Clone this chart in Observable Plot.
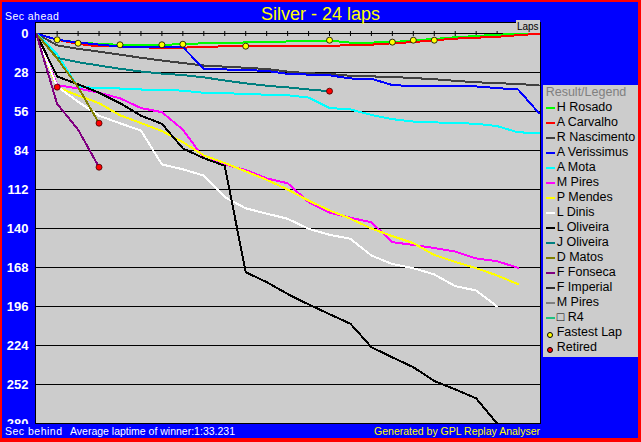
<!DOCTYPE html>
<html>
<head>
<meta charset="utf-8">
<script src="https://cdn.jsdelivr.net/npm/d3@7"></script>
<script src="https://cdn.jsdelivr.net/npm/@observablehq/plot@0.6"></script>
<style>
html,body{margin:0;padding:0;background:#ff0000;}
#wrap{position:relative;width:641px;height:442px;background:#ff0000;overflow:hidden;font-family:"Liberation Sans",Arial,sans-serif;}
#blue{position:absolute;left:2px;top:2px;width:636px;height:436px;background:#0000ff;}
#chart{position:absolute;left:0;top:0;}
.t{position:absolute;white-space:nowrap;}
#title{left:0;width:641px;top:5px;text-align:center;color:#ffff00;font-size:18px;line-height:18px;}
#secahead{left:5px;top:10.5px;color:#fff;font-size:10.5px;line-height:10.5px;letter-spacing:0.45px;}
#laps{left:516px;top:20px;width:23.5px;height:12.5px;background:#cccccc;color:#000;font-size:10px;line-height:13px;text-align:center;}
#secbehind{left:5px;top:425.5px;color:#fff;font-size:10.5px;line-height:10.5px;letter-spacing:0.5px;}
#avg{left:70px;top:425.5px;color:#fff;font-size:10.5px;line-height:10.5px;}
#gen{right:101px;top:425.5px;color:#ffff00;font-size:10.5px;line-height:10.5px;}
#legend{position:absolute;left:543px;top:85px;width:95px;height:272px;background:#cccccc;font-size:12.5px;}
#legend .head{position:relative;height:15px;line-height:15px;color:#808080;padding-left:2.7px;}
#legend .row{position:relative;height:15px;line-height:15px;color:#000;}
#legend .sw{position:absolute;left:2.7px;top:7.1px;width:9.5px;height:2px;}
#legend .dot{position:absolute;left:3.7px;top:6.5px;width:4px;height:4px;border:0.8px solid #000;border-radius:50%;}
#legend .lab{position:absolute;left:13.7px;top:0;}
</style>
</head>
<body>
<div id="wrap">
  <div id="blue"></div>
  <div id="chart"></div>
  <div class="t" id="title">Silver - 24 laps</div>
  <div class="t" id="secahead">Sec ahead</div>
  <div class="t" id="laps">Laps</div>
  <div id="legend"></div>
  <div class="t" id="secbehind">Sec behind</div>
  <div class="t" id="avg">Average laptime of winner:1:33.231</div>
  <div class="t" id="gen">Generated by GPL Replay Analyser</div>
</div>
<script>
// ---- data (seconds behind winner's average pace, one value per lap starting at lap 0) ----
const legendNames = ["H Rosado","A Carvalho","R Nascimento","A Verissimus","A Mota","M Pires","P Mendes","L Dinis","L Oliveira","J Oliveira","D Matos","F Fonseca","F Imperial","M Pires","\u25A1 R4"];
const legendColors = ["#00ff00","#ff0000","#404040","#0000ff","#00ffff","#ff00ff","#ffff00","#ffffff","#000000","#008080","#808000","#800080","#303030","#808080","#20c080"];

const hRosado     = [0,4.5,6.4,7.5,8.1,8.1,8.1,7.7,7.0,7.0,6.4,6.2,5.7,5.5,5.0,6.6,6.5,6.2,5.0,3.9,2.7,1.8,0.9,0.3,0];
const aCarvalho   = [0,4.5,7.5,9.3,9.3,9.8,10.5,10.2,9.4,9.3,9.2,9.1,9.1,9.1,9.1,8.1,8.0,7.0,6.2,4.8,3.7,3.0,2.4,1.2,0.2];
const rNascimento = [0,8.5,11,13,15.2,17.4,19.4,21.2,23,23.8,24.6,25.5,27.3,28.6,29,30.4,30.8,31.2,32,32.8,34,35,35.7,36.2,37.3];
const aVerissimus = [0,4.5,6.5,8.0,9.3,9.6,9.8,9.8,25.3,25.8,26.3,26.8,29.0,29.5,30.0,32.3,32.5,37.0,37.8,37.8,37.8,38.0,39.2,40.2,57.2];
const aMota       = [0,15,38.5,39,39.5,40.2,40.6,41,42.6,42.9,43.3,44,44.3,46,53.5,54.5,58.5,61.5,63.2,63.8,64.3,64.8,66.5,71,71.3];
const mPires      = [0,37,39.5,42.5,46.5,53.5,56.5,69,89.5,94,98,104,107.5,121,128.5,132.3,135.5,149.8,151.8,154,156.5,161.5,163.5,168.2];
const pMendes     = [0,38.6,44.5,50,58.7,64.3,70,78,87.5,93,99,105,112,120,127,133,140,145.5,150.5,159,164,168.5,173.7,180];
const lDinis      = [0,38,49,59,64.5,69.6,94,97.5,102,117.5,125.5,129.3,133,140.2,144.5,147.4,159.4,165.5,168.5,173,181.4,184.5,196];
const lOliveira   = [0,30.9,36.5,42.5,50,59,64.8,82.5,89.5,95,171.4,178.5,187,194.5,201.5,208.4,225.2,232.5,239.6,249.5,255.5,262,280];
const jOliveira   = [0,17.5,20.6,23,25.3,27.3,28.8,29.8,31.5,33.7,35.8,37.5,38.7,40.2,41.4];
const dMatos      = [0,18,38.5,64.4];
const fFonseca    = [0,50.5,69,96];
const fImperial   = [0,38.5];

const fastestLaps = [1,2,4,6,7,10,14,17,18,19];
const fastestSecs = [4.5,7.0,8.1,8.1,7.7,9.1,4.8,6.2,4.8,4.8];

const retiredNames = ["F Imperial","D Matos","F Fonseca","J Oliveira"];

const yTicks = [0,28,56,84,112,140,168,196,224,252,280];
const lapTicks = [1,2,3,4,5,6,7,8,9,10,11,12,13,14,15,16,17,18,19,20,21,22];

// ---- build ----
const series = [
  {name:"F Imperial", idx:12, values:fImperial},
  {name:"H Rosado", idx:0, values:hRosado},
  {name:"A Carvalho", idx:1, values:aCarvalho},
  {name:"R Nascimento", idx:2, values:rNascimento},
  {name:"A Verissimus", idx:3, values:aVerissimus},
  {name:"A Mota", idx:4, values:aMota},
  {name:"M Pires", idx:5, values:mPires},
  {name:"P Mendes", idx:6, values:pMendes},
  {name:"L Dinis", idx:7, values:lDinis},
  {name:"L Oliveira", idx:8, values:lOliveira},
  {name:"J Oliveira", idx:9, values:jOliveira},
  {name:"D Matos", idx:10, values:dMatos},
  {name:"F Fonseca", idx:11, values:fFonseca}
];
const rowsOf = s => s.values.map((v, i) => ({lap: i, sec: v}));
const lineMarks = series.map(s => Plot.line(rowsOf(s), {x:"lap", y:"sec", stroke: legendColors[s.idx], strokeWidth: 2, clip: true, shapeRendering: "crispEdges"}));

const fastest = fastestLaps.map((l, i) => ({lap: l, sec: fastestSecs[i]}));
const retired = retiredNames.map(n => {
  const s = series.find(d => d.name === n);
  return {lap: s.values.length - 1, sec: s.values[s.values.length - 1]};
});

const chart = Plot.plot({
  width: 641, height: 424,
  marginLeft: 35, marginRight: 101, marginTop: 22, marginBottom: 1,
  style: {background: "transparent", fontFamily: "'Liberation Sans', Arial, sans-serif", overflow: "hidden"},
  x: {domain: [-0.033, 24.07], axis: null},
  y: {domain: [-7.9, 280], reverse: true, label: null},
  marks: [
    Plot.frame({fill: "#cccccc"}),
    Plot.ruleY(yTicks, {stroke: "black"}),
    Plot.ruleX(lapTicks, {x: d => d, y1: 0, y2: 0, insetTop: -2, insetBottom: -3, stroke: "black"}),
    ...lineMarks,
    Plot.dot(fastest, {x:"lap", y:"sec", r: 3, fill: "#ffff00", stroke: "black", strokeWidth: 0.8}),
    Plot.dot(retired, {x:"lap", y:"sec", r: 3, fill: "#ff0000", stroke: "#400000", strokeWidth: 0.8}),
    Plot.frame({stroke: "black"}),
    Plot.axisY(yTicks, {tickSize: 0, tickPadding: 7, color: "white", fontWeight: "bold", fontSize: 13, label: null})
  ]
});
document.getElementById("chart").appendChild(chart);

// legend
const lg = document.getElementById("legend");
const head = document.createElement("div");
head.className = "head"; head.textContent = "Result/Legend";
lg.appendChild(head);
legendNames.forEach((n, i) => {
  const r = document.createElement("div"); r.className = "row";
  const sw = document.createElement("span"); sw.className = "sw"; sw.style.background = legendColors[i];
  const lab = document.createElement("span"); lab.className = "lab"; lab.textContent = n;
  r.appendChild(sw); r.appendChild(lab); lg.appendChild(r);
});
[["Fastest Lap","#ffff00"],["Retired","#ff0000"]].forEach(([n, c]) => {
  const r = document.createElement("div"); r.className = "row";
  const dt = document.createElement("span"); dt.className = "dot"; dt.style.background = c;
  const lab = document.createElement("span"); lab.className = "lab"; lab.textContent = n;
  r.appendChild(dt); r.appendChild(lab); lg.appendChild(r);
});
</script>
</body>
</html>
